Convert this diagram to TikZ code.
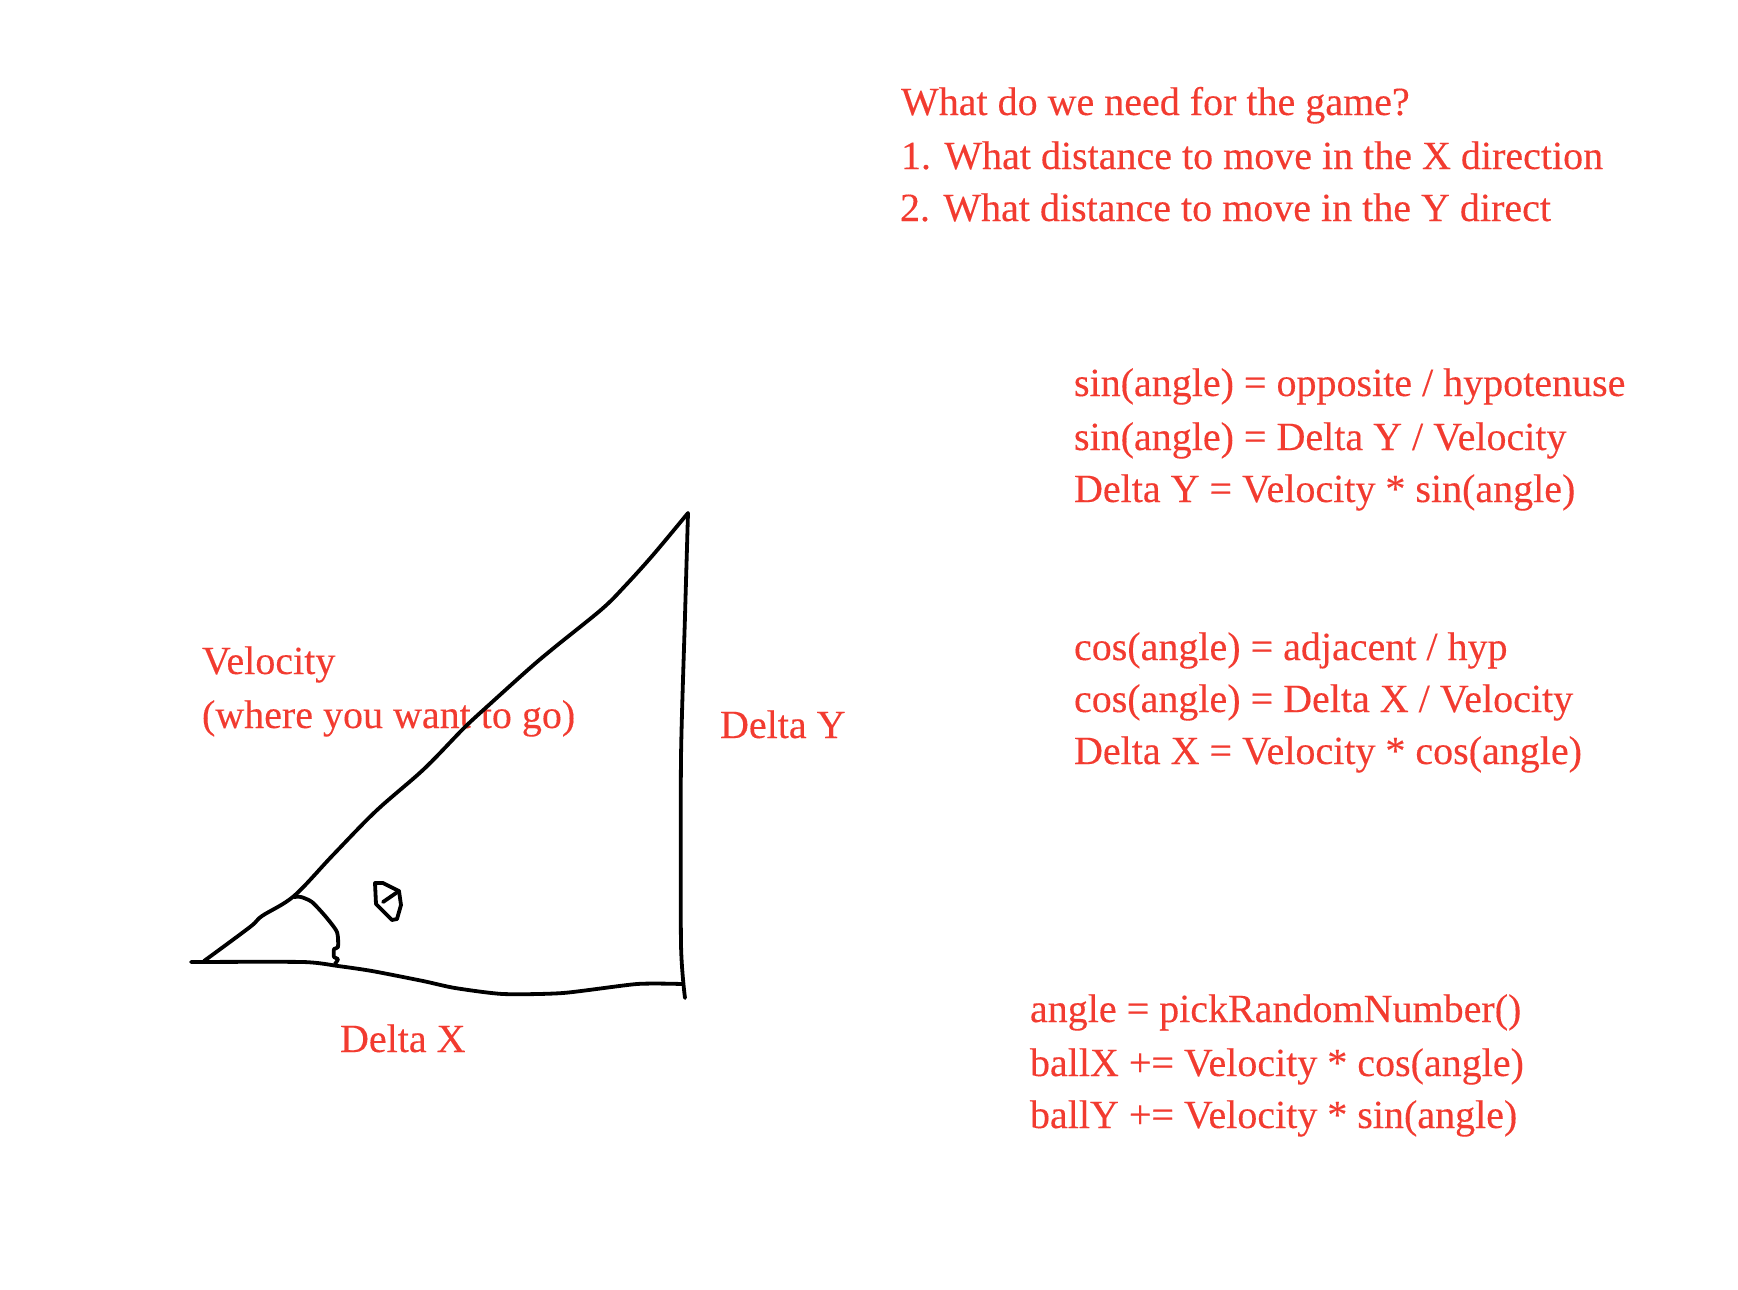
\documentclass[tikz,border=0pt]{standalone}
\usepackage{fontspec}
\setmainfont[FakeBold=0.25]{Liberation Serif}
\definecolor{notered}{HTML}{F23B30}
\tikzset{
  x=1pt,y=-1pt,
  note/.style={anchor=base west,inner sep=0pt,outer sep=0pt,text=notered,font=\fontsize{40}{40}\selectfont},
  ink/.style={draw=black,line width=3.8pt,line cap=round,line join=round}
}
\begin{document}
\begin{tikzpicture}
\useasboundingbox (0,0) rectangle (1738,1290);
% headline notes
\node[note] (q0) at (901,115) {What do we need for the game?};
\node[note] (q1) at (901,169) {1. What distance to move in the X direction};
\node[note] (q2) at (900,221) {2. What distance to move in the Y direct};
% sine
\node[note] (s0) at (1074,396) {sin(angle) = opposite / hypotenuse};
\node[note] (s1) at (1074,450) {sin(angle) = Delta Y / Velocity};
\node[note] (s2) at (1074,502) {Delta Y = Velocity * sin(angle)};
% cosine
\node[note] (c0) at (1074,660) {cos(angle) = adjacent / hyp};
\node[note] (c1) at (1074,712) {cos(angle) = Delta X / Velocity};
\node[note] (c2) at (1074,764) {Delta X = Velocity * cos(angle)};
% code
\node[note] (b0) at (1030,1022) {angle = pickRandomNumber()};
\node[note] (b1) at (1030,1076) {ballX += Velocity * cos(angle)};
\node[note] (b2) at (1030,1128) {ballY += Velocity * sin(angle)};
% triangle labels
\node[note] (v0) at (202,674) {Velocity};
\node[note] (v1) at (202,728) {(where you want to go)};
\node[note] (dy) at (720,738) {Delta Y};
\node[note] (dx) at (340,1052) {Delta X};
% hand-drawn triangle
\draw[ink] plot[smooth,tension=0.55] coordinates {(204,961)(250,927)(262,916)(294,896)(333,855)(376,811)(424,769)(464,728)(490,704)(530,668)(555,647)(602,609)(625,586)(653,555)(688,513)};
\draw[ink] plot[smooth,tension=0.4] coordinates {(688,513)(685,616)(681,758)(681,944)(685,998)};
\draw[ink] plot[smooth,tension=0.4] coordinates {(191,962)(303,962)(338,966)(372,971)(423,981)(455,988)(503,994)(563,993)(637,984)(682,984)};
% angle mark
\draw[ink] plot[smooth,tension=0.4] coordinates {(294,897)(301,897)(312,902)(326,917)(337,932)(338,947)(334,949)(334,957)(338,959)(335,964)};
% scribble
\draw[ink] (375,883) -- (383,883) -- (399,891) -- (401,905) -- (397,919) -- (392,920) -- (376,904) -- cycle;
\draw[ink] (399,891) -- (383,902);
\end{tikzpicture}
\end{document}
